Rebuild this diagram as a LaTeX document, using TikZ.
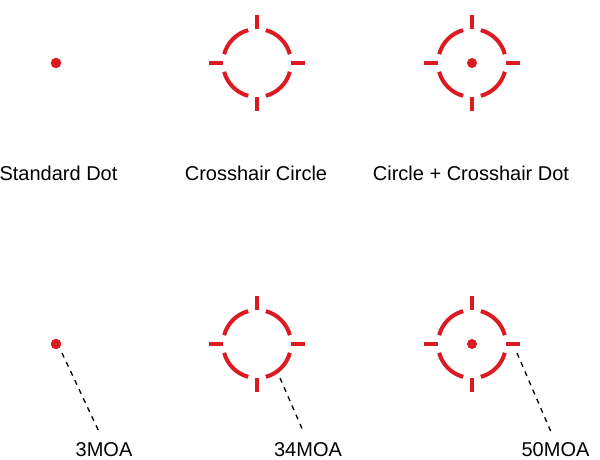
\documentclass[tikz,border=0pt]{standalone}
\usepackage{fontspec}
\setmainfont{Liberation Sans}
\definecolor{sightred}{RGB}{220,26,34}
\tikzset{pics/reticle/.style={code={
  \foreach \a in {0,90,180,270}{
    \draw[redline] (\a+15:34) arc[start angle=\a+15,end angle=\a+75,radius=34];
    \draw[redline] (\a:34) -- (\a:48);}
}}}

\begin{document}
\begin{tikzpicture}[x=1pt,y=1pt,
  redline/.style={draw=sightred,line width=4pt},
  reddot/.style={circle,fill=sightred,inner sep=0pt,minimum size=10pt},
  caption/.style={anchor=base,inner sep=0pt,font=\fontsize{20}{24}\selectfont},
  leader/.style={draw,line width=1.3pt,dash pattern=on 5pt off 5pt,shorten >=12pt}]
\useasboundingbox (0,0) rectangle (600,460);
% top row
\node[reddot,minimum size=10.5pt] (stddot) at (56,397) {};
\coordinate (xcircle) at (257,397);
\pic at (xcircle) {reticle};
\coordinate (xcircdot) at (472,397);
\pic at (xcircdot) {reticle};
\node[reddot] (xcircdotc) at (xcircdot) {};
\node[caption] (stdlbl) at (58.5,279) {Standard Dot};
\node[caption] (xcirclbl) at (256,279) {Crosshair Circle};
\node[caption] (xcircdotlbl) at (471,279) {Circle + Crosshair Dot};
% bottom row
\node[reddot,minimum size=10.5pt] (dot3) at (56,116) {};
\coordinate (ret34) at (257,116);
\pic at (ret34) {reticle};
\coordinate (ret50) at (472,116);
\pic at (ret50) {reticle};
\node[reddot] (ret50c) at (ret50) {};
\node[caption] (lbl3) at (104,3.5) {3MOA};
\node[caption] (lbl34) at (308,3.5) {34MOA};
\node[caption] (lbl50) at (555.5,3.5) {50MOA};
\coordinate (from3) at ([shift={(6,-9)}]dot3.center);
\coordinate (from34) at ([shift={(23,-34)}]ret34);
\coordinate (from50) at ([shift={(45,-9)}]ret50);
\draw[leader] (from3) -- (lbl3.north);
\draw[leader] (from34) -- (lbl34.north);
\draw[leader] (from50) -- (lbl50.north);
\end{tikzpicture}
\end{document}
